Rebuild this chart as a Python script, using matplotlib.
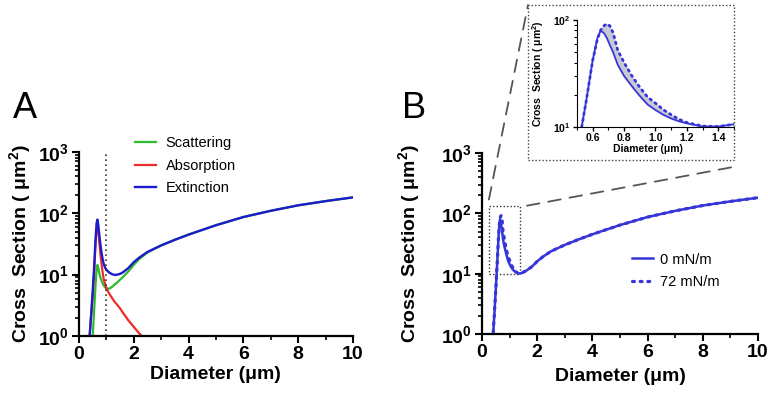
import numpy as np
import matplotlib
matplotlib.use("Agg")
import matplotlib.pyplot as plt
from matplotlib.patches import Rectangle, ConnectionPatch
from matplotlib.ticker import MultipleLocator, LogLocator, NullFormatter

plt.rcParams["font.family"] = ["Liberation Sans", "DejaVu Sans"]
plt.rcParams["mathtext.fontset"] = "custom"
plt.rcParams["mathtext.rm"] = "Liberation Sans"
plt.rcParams["mathtext.bf"] = "Liberation Sans:bold"
plt.rcParams["mathtext.it"] = "Liberation Sans:italic"

# ---- panel A : Mie cross sections ----
diam_a = [0.35, 0.40, 0.45, 0.50, 0.55, 0.60, 0.64, 0.67, 0.70, 0.74,
          0.78, 0.82, 0.86, 0.90, 0.95, 1.0, 1.1, 1.2, 1.3, 1.4,
          1.5, 1.6, 1.8, 2.0, 2.2, 2.5, 3.0, 3.5, 4.0, 5.0,
          6.0, 7.0, 8.0, 9.0, 10.0]
extinction = [0.6, 1.2, 2.5, 5.5, 13, 36, 68, 79, 66, 45,
              31, 23, 18, 15, 13, 12, 10.8, 10.2, 9.9, 10.0,
              10.3, 10.9, 12.8, 16, 19, 23.5, 30, 37, 45, 64,
              87, 110, 135, 158, 182]
scattering = [0.1, 0.2, 0.5, 1.0, 2.5, 6.5, 12, 14.4, 13, 10.5,
              9.0, 8.0, 7.2, 6.7, 6.2, 6.0, 5.9, 6.3, 6.9, 7.5,
              8.3, 9.1, 11.3, 14.5, 18, 23, 30, 37, 45, 64,
              87, 110, 135, 158, 182]
absorption = [0.6, 1.2, 2.4, 4.5, 10.5, 30, 56, 65, 53, 34,
              22, 15, 11, 8.5, 7.0, 6.0, 4.9, 4.2, 3.6, 3.2,
              2.8, 2.4, 1.8, 1.4, 1.1, 0.8, np.nan, np.nan, np.nan, np.nan,
              np.nan, np.nan, np.nan, np.nan, np.nan]
a_labels = ["Scattering", "Absorption", "Extinction"]
a_colors = ["#2dbb2d", "#ee2a2a", "#1c1ccc"]
cutoff_diam = 1.0

# ---- panel B : extinction at two surface tensions ----
diam_b = [0.35, 0.40, 0.45, 0.50, 0.53, 0.56, 0.60, 0.63, 0.65, 0.67,
          0.69, 0.71, 0.73, 0.76, 0.80, 0.85, 0.90, 0.95, 1.0, 1.05,
          1.1, 1.15, 1.2, 1.3, 1.4, 1.5, 1.6, 1.8, 2.0, 2.2,
          2.5, 3.0, 3.5, 4.0, 5.0, 6.0, 7.0, 8.0, 9.0, 10.0]
ext_0 = [0.6, 0.95, 2.2, 5.5, 10, 18, 42, 68, 79, 76,
         68, 58, 50, 38, 30, 24, 19.5, 16.2, 14.4, 13,
         12, 11.3, 10.8, 10.1, 10.1, 10.6, 11.2, 13, 16, 19,
         23.5, 30, 37, 45, 64, 87, 110, 135, 158, 182]
ext_72 = [0.6, 0.95, 2.2, 5.5, 10, 18, 42, 66, 80, 88,
          92, 88, 76, 52, 40, 30, 23.5, 19, 16.7, 14.5,
          13, 11.8, 11, 10.2, 10.1, 10.6, 11.2, 13, 16, 19,
          23.5, 30, 37, 45, 64, 87, 110, 135, 158, 182]
b_labels = ["0 mN/m", "72 mN/m"]
b_color = "#3535d8"

ylab = r"Cross  Section ( μm$^\mathbf{2}$)"
dec_ticks = [1, 10, 100, 1000]
dec_labels = [r"$\mathbf{10^{0}}$", r"$\mathbf{10^{1}}$", r"$\mathbf{10^{2}}$", r"$\mathbf{10^{3}}$"]


def style_main(ax):
    for s in ["top", "right"]:
        ax.spines[s].set_visible(False)
    for s in ["left", "bottom"]:
        ax.spines[s].set_linewidth(1.6)
    ax.set_yscale("log")
    ax.set_xlim(0, 10)
    ax.set_ylim(1, 1000)
    ax.set_xticks(range(0, 11, 2))
    ax.xaxis.set_minor_locator(MultipleLocator(1))
    ax.set_yticks(dec_ticks)
    ax.set_yticklabels(dec_labels)
    ax.yaxis.set_minor_locator(LogLocator(base=10, subs=np.arange(2, 10)))
    ax.yaxis.set_minor_formatter(NullFormatter())
    ax.tick_params(which="major", direction="out", length=5, width=1.5, labelsize=14, pad=2)
    ax.tick_params(which="minor", direction="out", length=3, width=1.2)
    for lab in ax.get_xticklabels():
        lab.set_fontweight("bold")
    ax.set_xlabel("Diameter (μm)", fontsize=14, fontweight="bold")
    ax.set_ylabel(ylab, fontsize=14, fontweight="bold")


fig = plt.figure(figsize=(7.68, 4.03), dpi=100)

# ---------------- panel A ----------------
ax_a = fig.add_axes([0.1029, 0.1663, 0.3568, 0.4566])
style_main(ax_a)
ax_a.plot(diam_a, scattering, color=a_colors[0], lw=1.6, label=a_labels[0])
ax_a.plot(diam_a, absorption, color=a_colors[1], lw=1.6, label=a_labels[1])
ax_a.plot(diam_a, extinction, color=a_colors[2], lw=1.7, label=a_labels[2])
ax_a.axvline(cutoff_diam, color="#333333", lw=1.2, ls=(0, (1, 2)))
ax_a.legend(loc="upper left", bbox_to_anchor=(0.205, 1.085), frameon=False,
            fontsize=10.5, handlelength=1.4, handletextpad=0.7, labelspacing=0.58,
            borderpad=0, borderaxespad=0)
ax_a.yaxis.set_label_coords(-0.168, 0.5)
ax_a.xaxis.set_label_coords(0.496, -0.165)
fig.text(13 / 768, 1 - 118 / 403, "A", fontsize=26, va="baseline")

# ---------------- panel B ----------------
ax_b = fig.add_axes([0.6276, 0.1712, 0.3594, 0.449])
style_main(ax_b)
ax_b.plot(diam_b, ext_0, color=b_color, lw=1.8, label=b_labels[0])
ax_b.plot(diam_b, ext_72, color=b_color, lw=2.3, ls=(0, (0.6, 1.8)),
          dash_capstyle="round", label=b_labels[1])
ax_b.legend(loc="upper left", bbox_to_anchor=(0.545, 0.45), frameon=False,
            fontsize=10.5, handlelength=1.4, handletextpad=0.5, labelspacing=0.6,
            borderpad=0, borderaxespad=0)
ax_b.yaxis.set_label_coords(-0.217, 0.5)
ax_b.xaxis.set_label_coords(0.5, -0.19)
fig.text(402 / 768, 1 - 118 / 403, "B", fontsize=26, va="baseline")

# zoom box on panel B
box_x0, box_x1, box_y0, box_y1 = 0.25, 1.38, 10, 134
ax_b.add_patch(Rectangle((box_x0, box_y0), box_x1 - box_x0, box_y1 - box_y0,
                         fill=False, ec="#333333", lw=1.0, ls=(0, (1, 1.5)), zorder=1))

# ---------------- inset ----------------
frame = [0.6875, 0.603, 0.268, 0.3846]  # left, bottom, width, height (figure fraction)
fig.add_artist(Rectangle((frame[0], frame[1]), frame[2], frame[3], transform=fig.transFigure,
                         fill=False, ec="#444444", lw=1.0, ls=(0, (1, 1.5))))
ax_i = fig.add_axes([0.7513, 0.6849, 0.2044, 0.2655])
for s in ["top", "right"]:
    ax_i.spines[s].set_visible(False)
ax_i.set_yscale("log")
ax_i.fill_between(diam_b, ext_0, ext_72, color="#c9c9d4", lw=0)
ax_i.plot(diam_b, ext_0, color=b_color, lw=1.3)
ax_i.plot(diam_b, ext_72, color=b_color, lw=2.0, ls=(0, (0.6, 1.6)), dash_capstyle="round")
ax_i.set_xlim(0.5, 1.5)
ax_i.set_ylim(10, 100)
ax_i.set_xticks([0.6, 0.8, 1.0, 1.2, 1.4])
ax_i.xaxis.set_minor_locator(MultipleLocator(0.1))
ax_i.set_yticks([10, 100])
ax_i.set_yticklabels([r"$\mathbf{10^{1}}$", r"$\mathbf{10^{2}}$"])
ax_i.yaxis.set_minor_locator(LogLocator(base=10, subs=np.arange(2, 10)))
ax_i.yaxis.set_minor_formatter(NullFormatter())
ax_i.tick_params(which="major", length=3, width=1.0, labelsize=7.5, pad=1.5)
ax_i.tick_params(which="minor", length=2, width=0.8)
for lab in ax_i.get_xticklabels():
    lab.set_fontweight("bold")
ax_i.set_xlabel("Diameter (μm)", fontsize=7.5, fontweight="bold")
ax_i.set_ylabel(ylab, fontsize=7.5, fontweight="bold")
ax_i.xaxis.set_label_coords(0.45, -0.16)
ax_i.yaxis.set_label_coords(-0.2, 0.5)

# dashed guide lines from zoom box to inset
for xy_a, xy_b in [((0.25, 170), (frame[0], frame[1] + frame[3])),
                   ((1.63, 134), (frame[0] + frame[2], frame[1] - 0.017))]:
    con = ConnectionPatch(xyA=xy_a, coordsA=ax_b.transData, xyB=xy_b,
                          coordsB="figure fraction", color="#555555", lw=1.3,
                          ls=(0, (7, 5)))
    fig.add_artist(con)

fig.savefig("out.png", dpi=100)
